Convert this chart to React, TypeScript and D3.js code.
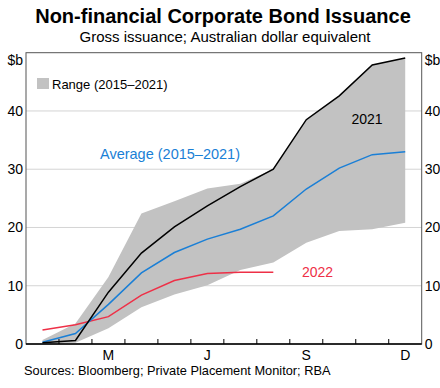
import React from 'react';
import * as d3 from 'd3';

const months = ['J', 'F', 'M', 'A', 'M', 'J', 'J', 'A', 'S', 'O', 'N', 'D'];
const labelledMonths = [2, 5, 8, 11];
const rangeLow = [0.0, 0.2, 2.7, 6.3, 8.5, 10.1, 12.7, 14.0, 17.4, 19.4, 19.7, 20.8];
const rangeHigh = [0.7, 3.5, 11.5, 22.4, 24.5, 26.7, 27.5, 30.0, 38.5, 42.6, 47.9, 49.1];
const series2021 = [0.2, 0.6, 8.9, 15.6, 20.1, 23.7, 27.0, 30.0, 38.5, 42.6, 47.9, 49.1];
const seriesAvg = [0.3, 1.8, 6.8, 12.2, 15.7, 18.0, 19.7, 22.0, 26.6, 30.2, 32.5, 33.0];
const series2022 = [2.4, 3.3, 4.7, 8.4, 10.9, 12.1, 12.3, 12.3];
const yTicks = [0, 10, 20, 30, 40];

const W = 440, H = 388;
const L = 26, R = 421.7, T = 52.7, B = 344;
const FONT = 'Arial, "Liberation Sans", Helvetica, sans-serif';
const BLUE = '#1a7fd6';
const RED = '#ee3047';
const GREY = '#c2c2c2';

export default function App() {
  const x = d3.scaleLinear().domain([0, 12]).range([L, R]);
  const y = d3.scaleLinear().domain([0, 50]).range([B, T]);
  const line = d3.line<number>().x((_, i) => x(i + 0.5)).y(d => y(d));
  const area = d3.area<number>()
    .x((_, i) => x(i + 0.5))
    .y0((_, i) => y(rangeLow[i]))
    .y1(d => y(d));
  const monthTicks = d3.range(1, 12);

  return (
    <svg width={W} height={H} style={{ position: 'absolute', left: 0, top: 0, background: '#fff' }} fontFamily={FONT}>
      <rect x={0} y={0} width={W} height={H} fill="#fff" />
      <text x={223} y={23} textAnchor="middle" fontSize={20} fontWeight="bold" fill="#000">Non-financial Corporate Bond Issuance</text>
      <text x={225} y={42} textAnchor="middle" fontSize={15} fill="#000">Gross issuance; Australian dollar equivalent</text>

      {yTicks.filter(t => t > 0).map(t => (
        <line key={t} x1={L} x2={R} y1={y(t)} y2={y(t)} stroke="#d4d4d4" strokeWidth={1} />
      ))}

      <path d={area(rangeHigh) || ''} fill={GREY} stroke="none" />
      <path d={line(series2022) || ''} fill="none" stroke={RED} strokeWidth={1.5} />
      <path d={line(seriesAvg) || ''} fill="none" stroke={BLUE} strokeWidth={1.5} />
      <path d={line(series2021) || ''} fill="none" stroke="#000" strokeWidth={1.5} />

      <rect x={L} y={T} width={R - L} height={B - T} fill="none" stroke="#555" strokeWidth={1} />
      <line x1={L} x2={R} y1={B} y2={B} stroke="#000" strokeWidth={1.5} />
      {monthTicks.map(m => (
        <line key={m} x1={x(m)} x2={x(m)} y1={B} y2={B - 5} stroke="#000" strokeWidth={1} />
      ))}
      {labelledMonths.map(i => (
        <text key={i} x={x(i + 0.5)} y={360} textAnchor="middle" fontSize={14} fill="#000">{months[i]}</text>
      ))}

      {yTicks.map(t => (
        <g key={t}>
          <text x={L - 3} y={y(t)} dy="0.35em" textAnchor="end" fontSize={14} fill="#000">{t}</text>
          <text x={R + 3} y={y(t)} dy="0.35em" textAnchor="start" fontSize={14} fill="#000">{t}</text>
        </g>
      ))}
      <text x={L - 3} y={65} textAnchor="end" fontSize={14} fill="#000">$b</text>
      <text x={R + 3} y={65} textAnchor="start" fontSize={14} fill="#000">$b</text>

      <rect x={37} y={78} width={12} height={11} fill={GREY} />
      <text x={52} y={84.5} dy="0.35em" fontSize={13} fill="#000">Range (2015–2021)</text>

      <text x={367} y={119.5} dy="0.35em" textAnchor="middle" fontSize={14} fill="#000">2021</text>
      <text x={100} y={154} dy="0.35em" fontSize={14.5} fill={BLUE}>Average (2015–2021)</text>
      <text x={317.5} y={272.5} dy="0.35em" textAnchor="middle" fontSize={14} fill={RED}>2022</text>

      <text x={24} y={375} fontSize={12.8} fill="#000">Sources: Bloomberg; Private Placement Monitor; RBA</text>
    </svg>
  );
}
